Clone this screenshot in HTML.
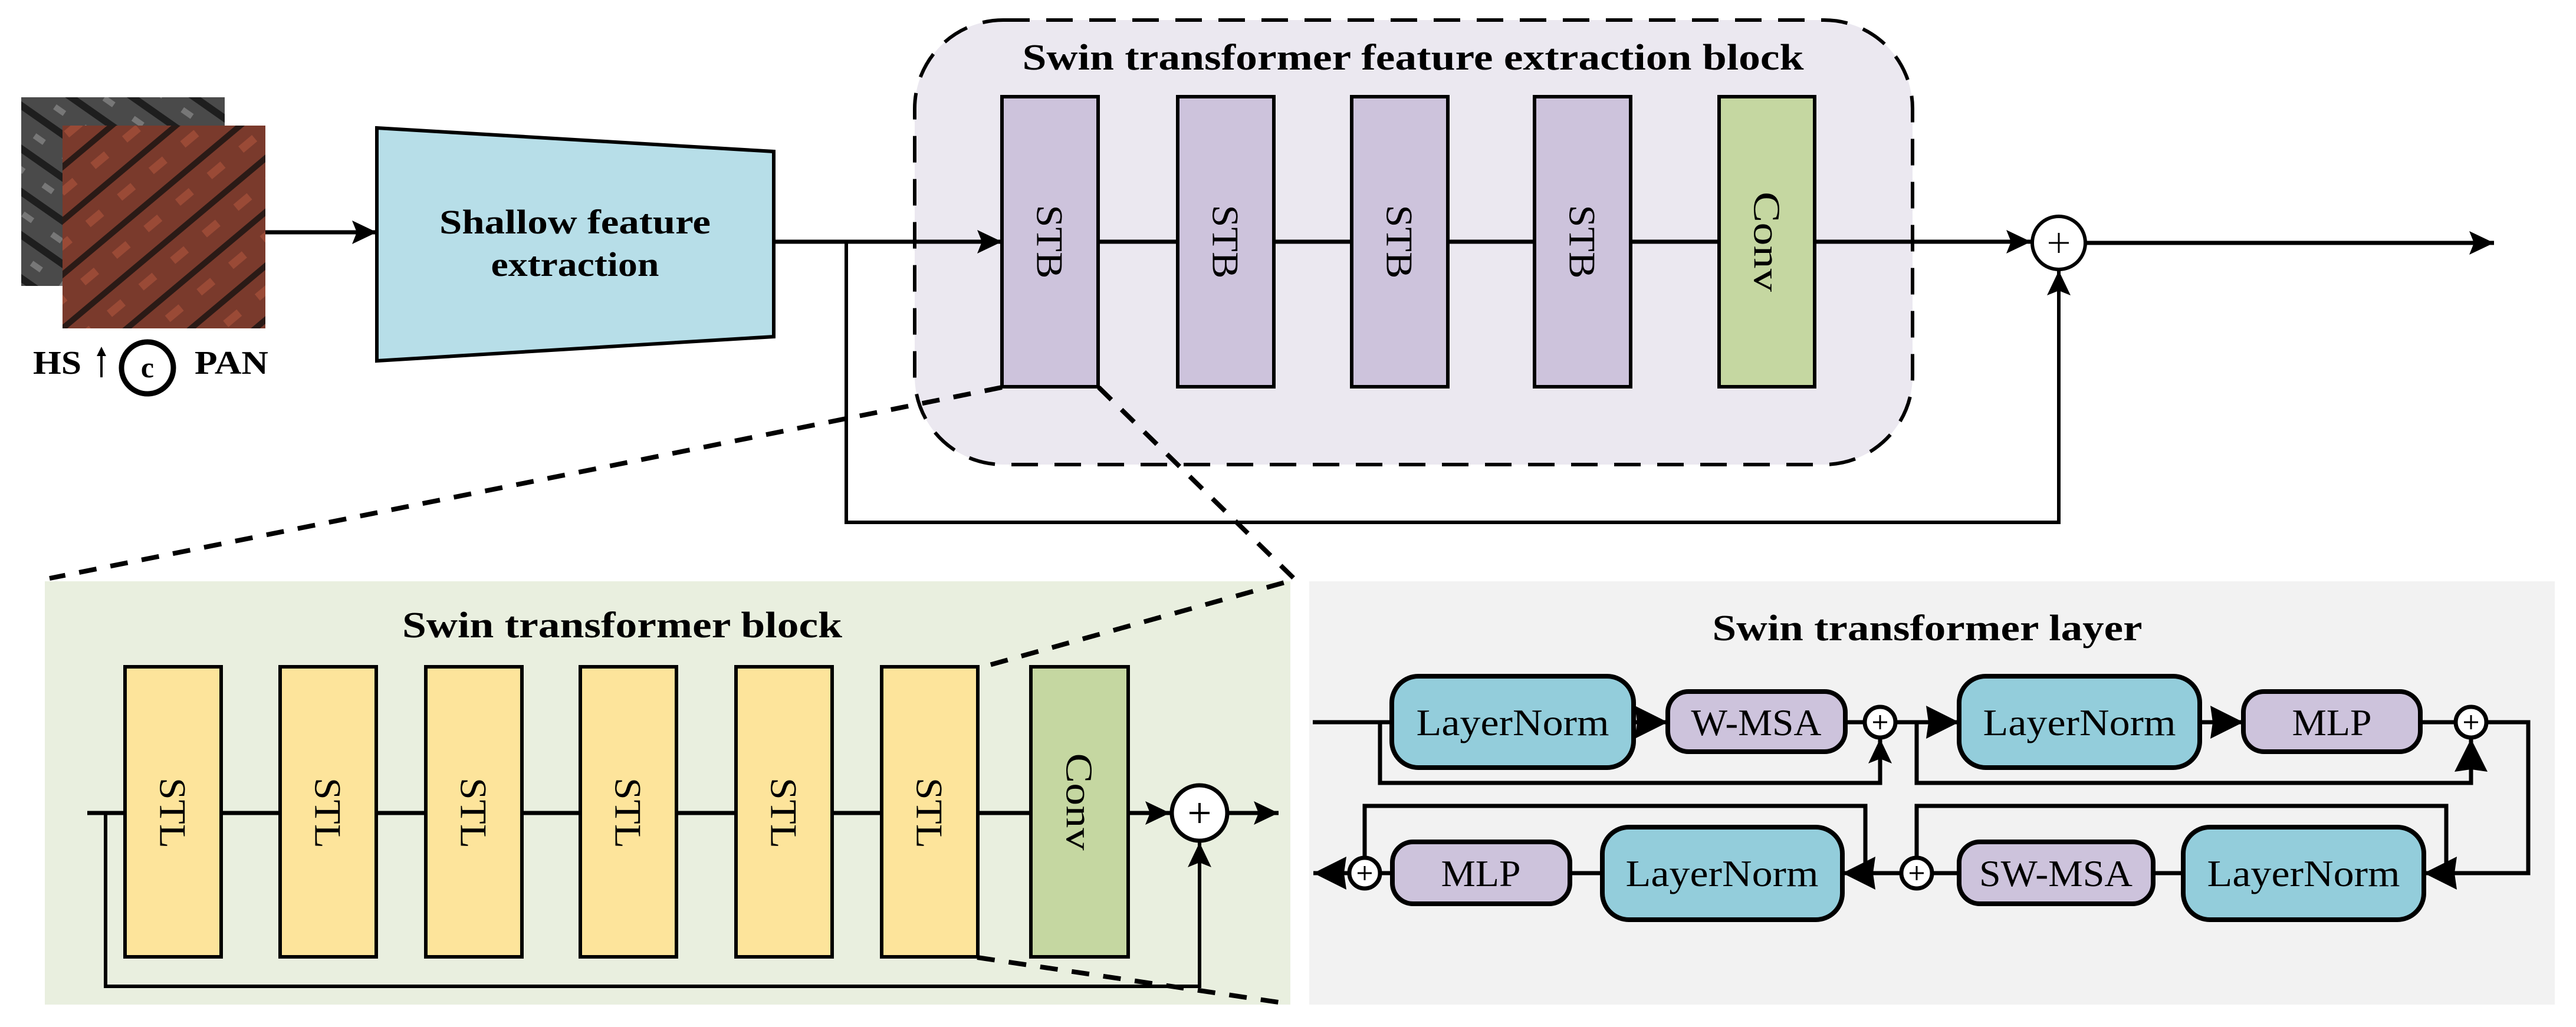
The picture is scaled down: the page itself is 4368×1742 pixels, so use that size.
<!DOCTYPE html>
<html><head><meta charset="utf-8"><style>
html,body{margin:0;padding:0;background:#fff;}
svg{display:block;}
text{font-family:"Liberation Serif",serif;fill:#000;}
</style></head><body>
<svg width="4368" height="1742" viewBox="0 0 4368 1742" xmlns="http://www.w3.org/2000/svg">
<defs>
<marker id="a" markerUnits="userSpaceOnUse" markerWidth="44" markerHeight="44" refX="42" refY="20" orient="auto">
<path d="M0,0 L42,20 L0,40 L8,20 z" fill="#000"/></marker>
<marker id="b" markerUnits="userSpaceOnUse" markerWidth="60" markerHeight="60" refX="56" refY="28" orient="auto">
<path d="M0,0 L56,28 L0,56 L4,28 z" fill="#000"/></marker>
<pattern id="gp" width="60" height="60" patternUnits="userSpaceOnUse" patternTransform="rotate(35)">
<rect width="60" height="60" fill="#4a4a4a"/><rect width="60" height="12" fill="#1e1e1e"/><rect x="0" y="30" width="20" height="10" fill="#777"/></pattern>
<pattern id="rp" width="70" height="70" patternUnits="userSpaceOnUse" patternTransform="rotate(-40)">
<rect width="70" height="70" fill="#7a3a2c"/><rect width="70" height="10" fill="#2a1a16"/><rect x="10" y="30" width="30" height="14" fill="#9a4a36"/></pattern>
</defs>

<!-- input images -->
<rect x="36" y="165" width="345" height="320" fill="url(#gp)"/>
<rect x="106" y="213" width="344" height="344" fill="url(#rp)"/>
<text x="56" y="634" font-size="56" font-weight="bold" textLength="82" lengthAdjust="spacingAndGlyphs">HS</text>
<line x1="172" y1="640" x2="172" y2="600" stroke="#000" stroke-width="4"/>
<path d="M164,604 L172,588 L180,604 z" fill="#000"/>
<circle cx="250" cy="624" r="44" fill="none" stroke="#000" stroke-width="9"/>
<text x="250" y="640" font-size="50" font-weight="bold" text-anchor="middle">c</text>
<text x="330" y="634" font-size="56" font-weight="bold" textLength="125" lengthAdjust="spacingAndGlyphs">PAN</text>

<line x1="450" y1="394" x2="639" y2="394" stroke="#000" stroke-width="7" marker-end="url(#a)"/>
<polygon points="639,217 1312,257 1312,571 639,612" fill="#b7dee8" stroke="#000" stroke-width="6"/>
<text x="975" y="396" font-size="58" font-weight="bold" text-anchor="middle" textLength="460" lengthAdjust="spacingAndGlyphs">Shallow feature</text>
<text x="975" y="468" font-size="58" font-weight="bold" text-anchor="middle" textLength="285" lengthAdjust="spacingAndGlyphs">extraction</text>

<!-- container -->
<rect x="1551" y="34" width="1692" height="754" rx="150" fill="#ebe8f0" stroke="#000" stroke-width="6" stroke-dasharray="45,28"/>
<text x="2396" y="118" font-size="62" font-weight="bold" text-anchor="middle" textLength="1325" lengthAdjust="spacingAndGlyphs">Swin transformer feature extraction block</text>

<line x1="1312" y1="410" x2="1699" y2="410" stroke="#000" stroke-width="7" marker-end="url(#a)"/>
<polyline points="1435,410 1435,886 3491,886 3491,459" fill="none" stroke="#000" stroke-width="6" marker-end="url(#a)"/>
<line x1="1862" y1="410" x2="3444" y2="410" stroke="#000" stroke-width="7"/>
<line x1="3300" y1="410" x2="3444" y2="410" stroke="#000" stroke-width="7" marker-end="url(#a)"/>
<g stroke="#000" stroke-width="6">
<rect x="1699" y="164" width="163" height="492" fill="#cdc3dc"/>
<rect x="1997" y="164" width="163" height="492" fill="#cdc3dc"/>
<rect x="2292" y="164" width="163" height="492" fill="#cdc3dc"/>
<rect x="2602" y="164" width="163" height="492" fill="#cdc3dc"/>
<rect x="2915" y="164" width="162" height="492" fill="#c5d7a1"/>
</g>
<g font-size="64">
<text transform="translate(1780,410) rotate(90)" text-anchor="middle" dominant-baseline="central" textLength="125" lengthAdjust="spacingAndGlyphs">STB</text>
<text transform="translate(2078,410) rotate(90)" text-anchor="middle" dominant-baseline="central" textLength="125" lengthAdjust="spacingAndGlyphs">STB</text>
<text transform="translate(2373,410) rotate(90)" text-anchor="middle" dominant-baseline="central" textLength="125" lengthAdjust="spacingAndGlyphs">STB</text>
<text transform="translate(2683,410) rotate(90)" text-anchor="middle" dominant-baseline="central" textLength="125" lengthAdjust="spacingAndGlyphs">STB</text>
<text transform="translate(2996,410) rotate(90)" text-anchor="middle" dominant-baseline="central" textLength="170" lengthAdjust="spacingAndGlyphs">Conv</text>
</g>
<circle cx="3491" cy="412" r="45" fill="#fff" stroke="#000" stroke-width="6"/>
<path d="M3474,412 H3508 M3491,395 V429" stroke="#000" stroke-width="3"/>
<line x1="3536" y1="412" x2="4229" y2="412" stroke="#000" stroke-width="7" marker-end="url(#a)"/>

<!-- green panel -->
<rect x="76" y="986" width="2112" height="718" fill="#e9efdf"/>
<text x="1055" y="1081" font-size="62" font-weight="bold" text-anchor="middle" textLength="746" lengthAdjust="spacingAndGlyphs">Swin transformer block</text>
<line x1="148" y1="1379" x2="1984" y2="1379" stroke="#000" stroke-width="7" marker-end="url(#a)"/>
<polyline points="179,1379 179,1673 2034,1673 2034,1429" fill="none" stroke="#000" stroke-width="6" marker-end="url(#a)"/>
<g stroke="#000" stroke-width="6">
<rect x="212" y="1131" width="163" height="492" fill="#fde49b"/>
<rect x="475" y="1131" width="163" height="492" fill="#fde49b"/>
<rect x="722" y="1131" width="163" height="492" fill="#fde49b"/>
<rect x="984" y="1131" width="163" height="492" fill="#fde49b"/>
<rect x="1248" y="1131" width="163" height="492" fill="#fde49b"/>
<rect x="1495" y="1131" width="163" height="492" fill="#fde49b"/>
<rect x="1748" y="1131" width="165" height="492" fill="#c5d7a1"/>
</g>
<g font-size="64">
<text transform="translate(293,1379) rotate(90)" text-anchor="middle" dominant-baseline="central" textLength="120" lengthAdjust="spacingAndGlyphs">STL</text>
<text transform="translate(556,1379) rotate(90)" text-anchor="middle" dominant-baseline="central" textLength="120" lengthAdjust="spacingAndGlyphs">STL</text>
<text transform="translate(803,1379) rotate(90)" text-anchor="middle" dominant-baseline="central" textLength="120" lengthAdjust="spacingAndGlyphs">STL</text>
<text transform="translate(1065,1379) rotate(90)" text-anchor="middle" dominant-baseline="central" textLength="120" lengthAdjust="spacingAndGlyphs">STL</text>
<text transform="translate(1329,1379) rotate(90)" text-anchor="middle" dominant-baseline="central" textLength="120" lengthAdjust="spacingAndGlyphs">STL</text>
<text transform="translate(1576,1379) rotate(90)" text-anchor="middle" dominant-baseline="central" textLength="120" lengthAdjust="spacingAndGlyphs">STL</text>
<text transform="translate(1830,1360) rotate(90)" text-anchor="middle" dominant-baseline="central" textLength="165" lengthAdjust="spacingAndGlyphs">Conv</text>
</g>
<circle cx="2034" cy="1379" r="47" fill="#fff" stroke="#000" stroke-width="7"/>
<path d="M2017,1379 H2051 M2034,1362 V1396" stroke="#000" stroke-width="4"/>
<line x1="2084" y1="1379" x2="2168" y2="1379" stroke="#000" stroke-width="7" marker-end="url(#a)"/>

<!-- dashed zoom lines -->
<g stroke="#000" stroke-width="8" fill="none" stroke-dasharray="30,24">
<line x1="1699" y1="657" x2="84" y2="981"/>
<polyline points="1863,657 2196,983 1660,1133"/>
<line x1="1657" y1="1624" x2="2181" y2="1702"/>
</g>

<!-- gray panel -->
<rect x="2220" y="986" width="2112" height="718" fill="#f2f2f2"/>
<text x="3268" y="1086" font-size="62" font-weight="bold" text-anchor="middle" textLength="729" lengthAdjust="spacingAndGlyphs">Swin transformer layer</text>
<g fill="none" stroke="#000" stroke-width="7">
<line x1="2226" y1="1225" x2="2360" y2="1225"/>
<line x1="2770" y1="1225" x2="2828" y2="1225" marker-end="url(#b)"/>
<line x1="3129" y1="1225" x2="3161" y2="1225"/>
<line x1="3215" y1="1225" x2="3322" y2="1225" marker-end="url(#b)"/>
<polyline points="2340,1225 2340,1328 3188,1328 3188,1253" marker-end="url(#a)"/>
<polyline points="3250,1225 3250,1328 4190,1328 4190,1253" marker-end="url(#b)"/>
<line x1="3730" y1="1225" x2="3804" y2="1225" marker-end="url(#b)"/>
<line x1="4104" y1="1225" x2="4163" y2="1225"/>
<polyline points="4217,1225 4287,1225 4287,1481 4110,1481" marker-end="url(#b)"/>
<polyline points="4148,1481 4148,1367 3250,1367 3250,1454"/>
<line x1="3651" y1="1481" x2="3702" y2="1481"/>
<line x1="3277" y1="1481" x2="3322" y2="1481"/>
<line x1="3223" y1="1481" x2="3124" y2="1481" marker-end="url(#b)"/>
<line x1="2662" y1="1481" x2="2717" y2="1481"/>
<line x1="2341" y1="1481" x2="2361" y2="1481"/>
<polyline points="3163,1481 3163,1367 2314,1367 2314,1454"/>
<line x1="2287" y1="1481" x2="2227" y2="1481" marker-end="url(#b)"/>
</g>
<g stroke="#000" stroke-width="8">
<rect x="2360" y="1147" width="410" height="155" rx="45" fill="#93cddb"/>
<rect x="2828" y="1173" width="301" height="102" rx="35" fill="#cdc3dc"/>
<rect x="3322" y="1147" width="408" height="155" rx="45" fill="#93cddb"/>
<rect x="3804" y="1173" width="300" height="102" rx="35" fill="#cdc3dc"/>
<rect x="3702" y="1403" width="408" height="157" rx="45" fill="#93cddb"/>
<rect x="3322" y="1428" width="329" height="105" rx="35" fill="#cdc3dc"/>
<rect x="2717" y="1403" width="407" height="157" rx="45" fill="#93cddb"/>
<rect x="2361" y="1428" width="301" height="105" rx="35" fill="#cdc3dc"/>
</g>
<g font-size="64" text-anchor="middle">
<text x="2565" y="1247" textLength="327" lengthAdjust="spacingAndGlyphs">LayerNorm</text>
<text x="2978" y="1247" textLength="221" lengthAdjust="spacingAndGlyphs">W-MSA</text>
<text x="3526" y="1247" textLength="327" lengthAdjust="spacingAndGlyphs">LayerNorm</text>
<text x="3954" y="1247" textLength="135" lengthAdjust="spacingAndGlyphs">MLP</text>
<text x="3906" y="1503" textLength="327" lengthAdjust="spacingAndGlyphs">LayerNorm</text>
<text x="3486" y="1503" textLength="260" lengthAdjust="spacingAndGlyphs">SW-MSA</text>
<text x="2920" y="1503" textLength="327" lengthAdjust="spacingAndGlyphs">LayerNorm</text>
<text x="2511" y="1503" textLength="135" lengthAdjust="spacingAndGlyphs">MLP</text>
</g>
<g fill="#fff" stroke="#000" stroke-width="7">
<circle cx="3188" cy="1225" r="26"/>
<circle cx="4190" cy="1225" r="26"/>
<circle cx="3250" cy="1481" r="26"/>
<circle cx="2314" cy="1481" r="26"/>
</g>
<path d="M3176,1225 H3200 M3188,1213 V1237 M4178,1225 H4202 M4190,1213 V1237 M3238,1481 H3262 M3250,1469 V1493 M2302,1481 H2326 M2314,1469 V1493" stroke="#000" stroke-width="3"/>
</svg>
</body></html>
